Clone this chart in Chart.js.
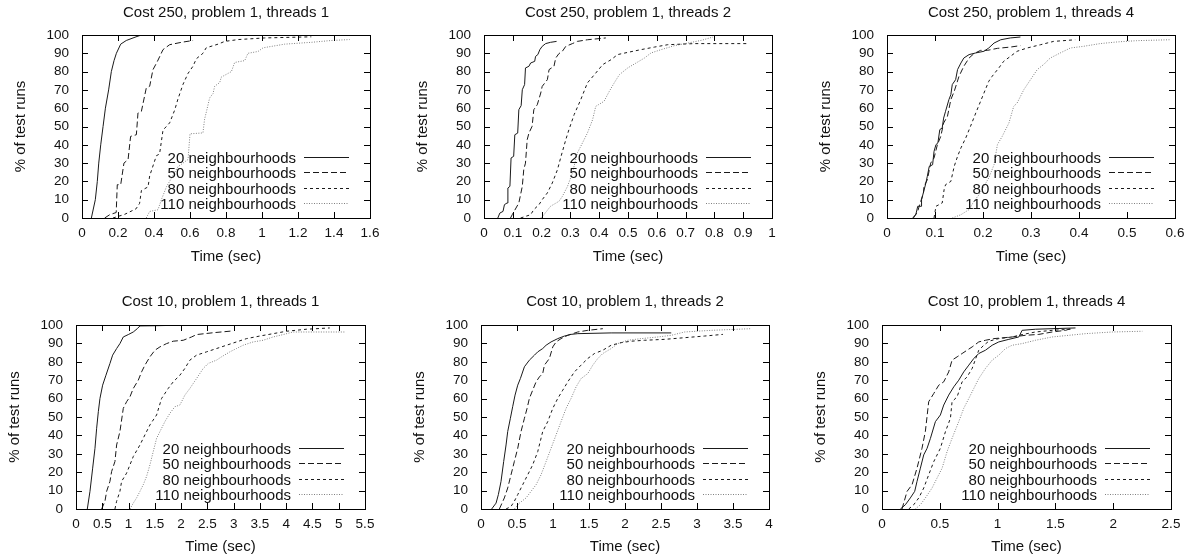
<!DOCTYPE html>
<html>
<head>
<meta charset="utf-8">
<title>Time to solution, six panels</title>
<script src="https://cdn.jsdelivr.net/npm/chart.js@4.4.1/dist/chart.umd.min.js"></script>
<style>
  html, body { margin: 0; padding: 0; background: #fff; }
  #wrap { position: relative; width: 1192px; height: 558px; overflow: hidden; }
  #wrap canvas { position: absolute; }
</style>
</head>
<body>
<div id="wrap"></div>
<script>
/* ── series names / titles / axis ticks ── */
const SERIES = ['20 neighbourhoods', '50 neighbourhoods', '80 neighbourhoods', '110 neighbourhoods'];
const TITLES = [
  'Cost 250, problem 1, threads 1', 'Cost 250, problem 1, threads 2', 'Cost 250, problem 1, threads 4',
  'Cost 10, problem 1, threads 1',  'Cost 10, problem 1, threads 2',  'Cost 10, problem 1, threads 4'
];
const X_MAX  = [1.6, 1, 0.6, 5.5, 4, 2.5];
const X_STEP = [0.2, 0.1, 0.1, 0.5, 0.5, 0.5];
const Y_MAX = 100, Y_STEP = 10;

/* ── Cost 250, threads 1 ── */
const c250_th1_n20_x  = [0.052,0.074,0.085,0.093,0.104,0.117,0.130,0.148,0.163,0.178,0.191,0.215,0.246,0.300,0.330];
const c250_th1_n20_y  = [0,10,20,30,40,50,60,70,80,86,90,95,97,99,100];
const c250_th1_n50_x  = [0.126,0.154,0.190,0.196,0.215,0.233,0.256,0.270,0.302,0.311,0.330,0.357,0.376,0.394,0.419,0.450,0.487,0.552,0.617];
const c250_th1_n50_y  = [0,1.8,3,18.2,18.2,30,31.9,44.6,45.5,57.4,58.3,71,72,81,85.6,92,94.7,96,97];
const c250_th1_n80_x  = [0.172,0.237,0.300,0.320,0.330,0.367,0.376,0.413,0.431,0.450,0.487,0.515,0.533,0.561,0.589,0.617,0.635,0.672,0.690,0.756,0.793,0.867,1.015,1.274];
const c250_th1_n80_y  = [0,2,5,8,15,17,23,34,35,48,52,59,65,73,79,83,87,90,93,95,96.5,97.5,98.4,99];
const c250_th1_n110_x = [0.357,0.376,0.422,0.441,0.469,0.533,0.589,0.600,0.672,0.681,0.691,0.709,0.728,0.737,0.765,0.774,0.830,0.848,0.904,0.922,0.978,1.006,1.126,1.274,1.385,1.487];
const c250_th1_n110_y = [0,3.6,4.5,10,17,28,32,46,46.5,54,58,65.6,68,72,74,77,80,85,86,90,91,93,95,96,97,97.5];

/* ── Cost 250, threads 2 ── */
const c250_th2_n20_x  = [0.048,0.055,0.066,0.071,0.080,0.083,0.090,0.094,0.103,0.107,0.117,0.121,0.129,0.133,0.141,0.144,0.156,0.162,0.176,0.179,0.187,0.194,0.202,0.214,0.231,0.252];
const c250_th2_n20_y  = [0,2.7,3.6,7.3,8.2,16.4,17.3,32.8,33.7,45.5,46.4,59.2,61.4,70.1,72.9,82,82.9,84.7,85.6,88.3,89.3,92,93.8,95.3,96,96.5];
const c250_th2_n50_x  = [0.092,0.098,0.121,0.127,0.133,0.138,0.144,0.150,0.156,0.167,0.173,0.185,0.197,0.202,0.220,0.226,0.243,0.249,0.260,0.272,0.284,0.307,0.324,0.359,0.423];
const c250_th2_n50_y  = [0,1.8,8.2,12.8,17.3,26.4,30,42.8,46.4,50.1,59.2,61.9,68.3,71.9,75.6,81.1,82.9,87.4,89.8,91.1,93.8,95.3,96.5,97.4,98.4];
const c250_th2_n80_x  = [0.127,0.162,0.173,0.191,0.202,0.220,0.237,0.255,0.266,0.284,0.295,0.313,0.336,0.359,0.388,0.412,0.441,0.464,0.499,0.545,0.592,0.638,0.731,0.917];
const c250_th2_n80_y  = [0,1.8,4.6,7.3,10,13.7,19.1,26.4,32.8,42.8,48.3,56.5,64.7,73.8,79.2,83.8,86.5,89.3,90.5,92,93.4,94.7,95.3,95.3];
const c250_th2_n110_x = [0.197,0.208,0.231,0.260,0.272,0.290,0.307,0.324,0.336,0.359,0.377,0.388,0.417,0.435,0.452,0.470,0.499,0.528,0.557,0.580,0.615,0.662,0.708,0.755,0.795];
const c250_th2_n110_y = [0,1.8,6.4,9.1,11.8,17.3,24.6,35.5,39.2,46.4,53.7,61,63.8,69.2,73.8,78.3,82,84.7,87.4,90.2,92,94.2,95.6,97.1,98.9];

/* ── Cost 250, threads 4 ── */
const c250_th4_n20_x  = [0.053,0.060,0.064,0.071,0.072,0.081,0.084,0.088,0.095,0.098,0.102,0.106,0.110,0.115,0.118,0.122,0.129,0.133,0.136,0.143,0.147,0.154,0.160,0.171,0.185,0.202,0.212,0.223,0.237,0.257,0.278];
const c250_th4_n20_y  = [0,1.8,6.4,6.4,10,19.1,22.8,28.2,29.1,36.4,40.1,41,48.3,49.2,54.6,58.3,64.7,67.4,72.9,75.6,81.1,84.7,87.4,89.3,90.2,91.1,92.9,95.6,97.4,98.4,98.9];
const c250_th4_n50_x  = [0.055,0.064,0.067,0.076,0.077,0.084,0.091,0.098,0.105,0.112,0.118,0.126,0.133,0.140,0.150,0.160,0.171,0.181,0.195,0.209,0.230,0.257,0.278];
const c250_th4_n50_y  = [0,3.6,6.4,13.7,17.3,20.9,30,32.8,40.1,44.6,51.9,55.6,64.7,69.2,77.4,82.9,87.4,89.8,91.6,91.6,92.7,93.4,94.2];
const c250_th4_n80_x  = [0.098,0.102,0.115,0.119,0.122,0.133,0.140,0.147,0.154,0.164,0.174,0.185,0.195,0.202,0.212,0.219,0.233,0.243,0.257,0.271,0.292,0.320,0.347,0.392];
const c250_th4_n80_y  = [0,6.4,8.2,15.5,18.2,20,28.2,33.7,38.3,43.7,50.1,57.4,63.8,68.3,74.7,77.4,82,85.6,88.3,91.1,92.9,94.7,96.5,97.4];
const c250_th4_n110_x = [0.136,0.154,0.171,0.181,0.192,0.202,0.212,0.223,0.230,0.240,0.254,0.264,0.271,0.285,0.299,0.313,0.326,0.340,0.361,0.382,0.409,0.444,0.479,0.520,0.589];
const c250_th4_n110_y = [0,1.8,4.6,9.1,12.8,17.3,21.9,29.1,40.1,44.6,51.9,61,62.8,70.1,75.6,81.1,83.8,87.4,90.2,92.9,93.8,95.3,96.2,96.9,97.4];

/* ── Cost 10, threads 1 ── */
const c10_th1_n20_x  = [0.215,0.266,0.317,0.361,0.393,0.425,0.456,0.507,0.570,0.646,0.697,0.773,0.836,0.900,0.995,1.090,1.166,1.217,1.470,1.850];
const c10_th1_n20_y  = [0,9.6,22.2,33,43.9,52.9,60.1,67.3,72.7,79.1,83.6,87.2,89.9,93.5,94.8,96.2,98,99.5,99.6,99.8];
const c10_th1_n50_x  = [0.488,0.551,0.583,0.646,0.678,0.741,0.773,0.836,0.900,0.963,1.027,1.090,1.185,1.248,1.312,1.407,1.502,1.597,1.724,1.850,2.041,2.199,2.294,2.611,2.991];
const c10_th1_n50_y  = [0,4.2,9.6,15,20.4,25.8,34.8,42.1,54.7,58.3,61,65.5,70,74.5,78.2,82.7,86.3,88.1,89.9,91.2,91.7,93.5,94.8,95.8,96.8];
const c10_th1_n80_x  = [0.741,0.773,0.836,0.868,0.963,1.027,1.090,1.217,1.312,1.407,1.534,1.629,1.755,1.850,1.977,2.072,2.167,2.294,2.484,2.674,2.864,3.054,3.245,3.498,3.752,4.005,4.385,4.829];
const c10_th1_n80_y  = [0,4.2,9.6,15,19.5,24,28.5,34.8,40.3,45.7,51.1,60.1,65.5,69.1,72.7,76.4,80.9,83.6,85.4,87.2,89,90.8,92.6,94,95.3,96.6,97.7,98.4];
const c10_th1_n110_x = [1.027,1.090,1.153,1.217,1.280,1.343,1.407,1.470,1.534,1.629,1.692,1.787,1.882,1.977,2.072,2.167,2.294,2.421,2.516,2.674,2.769,2.928,3.054,3.181,3.371,3.561,3.752,3.942,4.132,4.385,5.114];
const c10_th1_n110_y = [0,3.2,6,9.6,13.2,17.7,24,31.2,38.4,43.9,47.5,52,55.6,56.5,61.9,65.5,70.9,76.4,79.1,80.9,82.7,85.4,87.2,89,90.8,91.7,93.5,94.8,96.2,96.2,96.2];

/* ── Cost 10, threads 2 ── */
const c10_th2_n20_x  = [0.148,0.209,0.241,0.278,0.315,0.348,0.371,0.408,0.440,0.473,0.510,0.547,0.603,0.672,0.742,0.788,0.857,0.904,0.973,1.066,1.159,1.251,1.344,1.808,2.642];
const c10_th2_n20_y  = [0,3.2,7.8,15,25.8,34.8,42.1,49.3,55.6,61.9,67.3,70.9,77.3,80.9,83.6,85.4,87.2,89,90.8,92.6,94,94.9,95.3,95.7,95.7];
const c10_th2_n50_x  = [0.255,0.324,0.371,0.417,0.463,0.510,0.556,0.603,0.640,0.672,0.718,0.765,0.811,0.857,0.881,0.950,0.997,1.043,1.112,1.205,1.344,1.483,1.692];
const c10_th2_n50_y  = [0,6,11.4,18.6,25.8,33,42.1,49.3,54.7,60.1,64.6,69.1,71.8,73.6,78.2,81.8,88.1,90.8,92.6,94.4,96.2,97.1,98];
const c10_th2_n80_x  = [0.348,0.417,0.463,0.510,0.579,0.649,0.718,0.788,0.857,0.927,0.997,1.066,1.136,1.205,1.298,1.390,1.483,1.576,1.692,1.808,1.947,2.086,2.271,2.549,2.827,3.105,3.360];
const c10_th2_n80_y  = [0,1.4,4.2,7.8,13.2,18.6,24,31.2,42.1,47.5,54.7,60.1,64.6,69.1,74.5,78.2,81.8,84.5,86.3,89,90.4,91.2,91.7,92.2,93.1,94,94.9];
const c10_th2_n110_x = [0.463,0.533,0.626,0.695,0.765,0.834,0.904,0.973,1.043,1.112,1.182,1.251,1.321,1.390,1.483,1.553,1.622,1.692,1.808,1.900,2.039,2.225,2.457,2.642,2.827,3.198,3.754];
const c10_th2_n110_y = [0,3.2,6,9.6,13.2,18.6,25.8,33,40.3,47.5,54.7,60.1,66.4,70.9,73.6,78.2,81.8,84.5,87.2,89.9,91.7,92.6,93.5,94.4,96.2,97.1,98];

/* ── Cost 10, threads 4 ── */
const c10_th4_n20_x  = [0.159,0.202,0.245,0.283,0.303,0.332,0.361,0.390,0.419,0.462,0.505,0.534,0.577,0.621,0.664,0.707,0.751,0.794,0.837,0.895,0.953,1.010,1.097,1.184,1.212,1.328,1.674];
const c10_th4_n20_y  = [0,2.3,6,9.6,15,22.2,29.4,33,38.4,47.5,51.1,56.5,61.9,66.4,70,74.5,78.2,81.8,84.5,86.3,89,90.8,92.2,93.5,97.1,97.7,98.4];
const c10_th4_n50_x  = [0.173,0.217,0.260,0.303,0.346,0.375,0.404,0.448,0.491,0.534,0.577,0.606,0.650,0.693,0.736,0.780,0.837,0.895,0.967,1.039,1.126,1.241,1.357,1.472,1.588,1.631];
const c10_th4_n50_y  = [0,9.6,13.2,22.2,33,42.1,58.3,62.8,67.3,69.1,74.5,80.9,82.7,84.5,86.3,88.1,90.8,91.7,92.6,93,93.5,94.4,94.9,96.2,97.1,98];
const c10_th4_n80_x  = [0.231,0.274,0.318,0.361,0.404,0.448,0.505,0.549,0.592,0.606,0.650,0.693,0.736,0.780,0.837,0.881,0.924,1.010,1.126,1.212,1.328,1.472,1.631];
const c10_th4_n80_y  = [0,2.3,6,11.4,18.6,25.8,33,42.1,49.3,58.3,61,69.1,71.8,76.4,86.3,89,91.2,92.6,93.5,94.8,96.2,97.1,97.7];
const c10_th4_n110_x = [0.289,0.332,0.375,0.433,0.476,0.520,0.563,0.606,0.664,0.707,0.751,0.794,0.837,0.895,0.953,1.010,1.068,1.126,1.212,1.328,1.472,1.617,1.761,1.992,2.252];
const c10_th4_n110_y = [0,2.3,6,11.4,16.8,22.2,31.2,38.4,47.5,54.7,60.1,65.5,70.9,76.4,80.9,83.6,87.2,89,89.9,91.7,93.5,94.4,95.3,96.2,96.6];

/* 패널별 시리즈 묶음 (x, y 쌍) */
const PANEL_DATA = [
  [[c250_th1_n20_x, c250_th1_n20_y], [c250_th1_n50_x, c250_th1_n50_y], [c250_th1_n80_x, c250_th1_n80_y], [c250_th1_n110_x, c250_th1_n110_y]],
  [[c250_th2_n20_x, c250_th2_n20_y], [c250_th2_n50_x, c250_th2_n50_y], [c250_th2_n80_x, c250_th2_n80_y], [c250_th2_n110_x, c250_th2_n110_y]],
  [[c250_th4_n20_x, c250_th4_n20_y], [c250_th4_n50_x, c250_th4_n50_y], [c250_th4_n80_x, c250_th4_n80_y], [c250_th4_n110_x, c250_th4_n110_y]],
  [[c10_th1_n20_x, c10_th1_n20_y], [c10_th1_n50_x, c10_th1_n50_y], [c10_th1_n80_x, c10_th1_n80_y], [c10_th1_n110_x, c10_th1_n110_y]],
  [[c10_th2_n20_x, c10_th2_n20_y], [c10_th2_n50_x, c10_th2_n50_y], [c10_th2_n80_x, c10_th2_n80_y], [c10_th2_n110_x, c10_th2_n110_y]],
  [[c10_th4_n20_x, c10_th4_n20_y], [c10_th4_n50_x, c10_th4_n50_y], [c10_th4_n80_x, c10_th4_n80_y], [c10_th4_n110_x, c10_th4_n110_y]]
];

/* ── line styles (gnuplot mono) ── */
const LINE = [
  { color: '#1a1a1a', dash: [] },
  { color: '#1a1a1a', dash: [6, 3] },
  { color: '#1a1a1a', dash: [3, 3] },
  { color: '#808080', dash: [1, 1.5] }
];

const FONT = '"Liberation Sans", Arial, Helvetica, sans-serif';
const INK = '#111';

/* ── panel placement on the page ── */
const ROW1 = { top: 0,   tpad: { top: 4,  bottom: 13 }, xh: 48, pb: 13 };
const ROW2 = { top: 279, tpad: { top: 14, bottom: 14 }, xh: 47, pb: 2 };
const PANELS = [
  { left: 0,   w: 397, row: ROW1, pl: 12, pr: 27 },
  { left: 397, w: 397, row: ROW1, pl: 17, pr: 22 },
  { left: 794, w: 398, row: ROW1, pl: 23, pr: 17 },
  { left: 0,   w: 397, row: ROW2, pl: 6,  pr: 32 },
  { left: 397, w: 397, row: ROW2, pl: 14, pr: 25 },
  { left: 794, w: 398, row: ROW2, pl: 18, pr: 21 }
];

/* ── frame + inward ticks on all four sides ── */
const frameTicks = {
  id: 'frameTicks',
  afterDatasetsDraw(chart) {
    const { ctx, chartArea: a, scales: { x, y } } = chart;
    const L = 6;
    ctx.save();
    ctx.strokeStyle = '#000';
    ctx.lineWidth = 1;
    ctx.setLineDash([]);
    ctx.beginPath();
    x.ticks.forEach(t => {
      const px = Math.round(x.getPixelForValue(t.value)) + 0.5;
      ctx.moveTo(px, a.bottom); ctx.lineTo(px, a.bottom - L);
      ctx.moveTo(px, a.top);    ctx.lineTo(px, a.top + L);
    });
    y.ticks.forEach(t => {
      const py = Math.round(y.getPixelForValue(t.value)) + 0.5;
      ctx.moveTo(a.left, py);  ctx.lineTo(a.left + L, py);
      ctx.moveTo(a.right, py); ctx.lineTo(a.right - L, py);
    });
    ctx.stroke();
    ctx.strokeRect(Math.round(a.left) + 0.5, Math.round(a.top) + 0.5,
                   Math.round(a.right - a.left), Math.round(a.bottom - a.top));
    ctx.restore();
  }
};

/* ── gnuplot style key: text right aligned, sample on the right ── */
const gpKey = {
  id: 'gpKey',
  afterDatasetsDraw(chart) {
    const { ctx, chartArea: a } = chart;
    const ds = chart.data.datasets;
    ctx.save();
    ctx.font = '15px ' + FONT;
    ctx.textAlign = 'right';
    ctx.textBaseline = 'middle';
    ds.forEach((d, i) => {
      const yy = Math.round(a.bottom - 15 - (ds.length - 1 - i) * 15.3) + 0.5;
      ctx.fillStyle = INK;
      ctx.fillText(d.label, a.right - 74, yy + 1);
      ctx.strokeStyle = d.borderColor;
      ctx.lineWidth = d.borderWidth;
      ctx.setLineDash(d.borderDash);
      ctx.beginPath();
      ctx.moveTo(a.right - 66, yy);
      ctx.lineTo(a.right - 21, yy);
      ctx.stroke();
    });
    ctx.restore();
  }
};

/* ── build one panel ── */
function drawPanel(i) {
  const p = PANELS[i];
  const cv = document.createElement('canvas');
  cv.width = p.w;
  cv.height = 279;
  cv.style.left = p.left + 'px';
  cv.style.top = p.row.top + 'px';
  document.getElementById('wrap').appendChild(cv);

  const datasets = PANEL_DATA[i].map(([xs, ys], k) => ({
    label: SERIES[k],
    data: xs.map((v, j) => ({ x: v, y: ys[j] })),
    borderColor: LINE[k].color,
    borderDash: LINE[k].dash,
    borderWidth: 1,
    pointRadius: 0,
    tension: 0,
    fill: false
  }));

  return new Chart(cv, {
    type: 'line',
    data: { datasets },
    plugins: [frameTicks, gpKey],
    options: {
      responsive: false,
      animation: false,
      devicePixelRatio: 1,
      layout: { padding: { left: p.pl, right: p.pr, top: 0, bottom: p.row.pb } },
      plugins: {
        legend: { display: false },
        tooltip: { enabled: false },
        title: {
          display: true,
          text: TITLES[i],
          fullSize: false,
          color: INK,
          font: { family: FONT, size: 15, weight: 'normal' },
          padding: p.row.tpad
        }
      },
      scales: {
        x: {
          type: 'linear',
          min: 0,
          max: X_MAX[i],
          grid: { display: false, drawTicks: false },
          border: { display: false },
          ticks: {
            stepSize: X_STEP[i],
            padding: 7,
            color: INK,
            maxRotation: 0,
            autoSkip: false,
            font: { family: FONT, size: 13.5 },
            callback: v => String(+v.toFixed(2))
          },
          title: {
            display: true,
            text: 'Time (sec)',
            color: INK,
            padding: 0,
            font: { family: FONT, size: 15 }
          },
          afterFit: s => { s.height = p.row.xh; }
        },
        y: {
          min: 0,
          max: Y_MAX,
          grid: { display: false, drawTicks: false },
          border: { display: false },
          ticks: {
            stepSize: Y_STEP,
            padding: 13,
            color: INK,
            autoSkip: false,
            font: { family: FONT, size: 13.5 }
          },
          title: {
            display: true,
            text: '% of test runs',
            color: INK,
            padding: 0,
            font: { family: FONT, size: 15 }
          },
          afterFit: s => { s.width = 70; }
        }
      }
    }
  });
}

PANELS.forEach((_, i) => drawPanel(i));
</script>
</body>
</html>
